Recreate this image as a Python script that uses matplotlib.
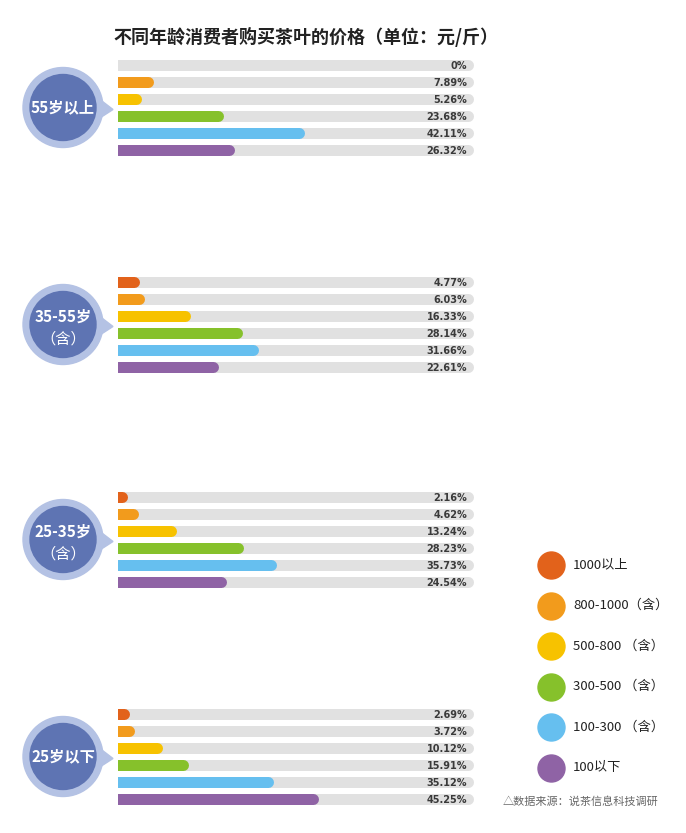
import matplotlib
matplotlib.use("Agg")
import matplotlib.pyplot as plt
from matplotlib.patches import Circle, Polygon

plt.rcParams['font.family'] = ['Noto Sans CJK SC', 'DejaVu Sans']

# ---------------- data ----------------
title = "不同年龄消费者购买茶叶的价格（单位：元/斤）"
groups = ["55岁以上", "35-55岁\n（含）", "25-35岁\n（含）", "25岁以下"]
categories = ["1000以上", "800-1000（含）", "500-800 （含）", "300-500 （含）", "100-300 （含）", "100以下"]
colors = ["#E2621B", "#F29B1C", "#F7C200", "#86C12B", "#66BFEF", "#8F63A5"]
age_55_plus = [0, 7.89, 5.26, 23.68, 42.11, 26.32]
age_35_55 = [4.77, 6.03, 16.33, 28.14, 31.66, 22.61]
age_25_35 = [2.16, 4.62, 13.24, 28.23, 35.73, 24.54]
age_under_25 = [2.69, 3.72, 10.12, 15.91, 35.12, 45.25]
series = [age_55_plus, age_35_55, age_25_35, age_under_25]
source = "△数据来源：说茶信息科技调研"

# ---------------- layout ----------------
W, H = 686, 833
fig = plt.figure(figsize=(W / 100, H / 100), dpi=100)
fig.patch.set_facecolor("white")

bg = fig.add_axes([0, 0, 1, 1])
bg.set_xlim(0, W)
bg.set_ylim(H, 0)
bg.axis("off")

fig.text(113 / W, 1 - 37 / H, title, fontsize=13, fontweight="bold",
         color="#222222", ha="left", va="center")

px_per_pct = 4.44
bar_px = 11
lw_pt = bar_px * 72 / 100
cap = (bar_px / 2) / px_per_pct
track_len = 80
first_rows = [65, 282, 497, 714]
row_gap = 17
x0 = 118
ax_w = 82 * px_per_pct

ring_c = "#B4C2E4"
core_c = "#5E74B3"

for g, (name, vals, top) in enumerate(zip(groups, series, first_rows)):
    ax_top = top - row_gap / 2
    ax_h = row_gap * 6
    ax = fig.add_axes([x0 / W, 1 - (ax_top + ax_h) / H, ax_w / W, ax_h / H])
    ax.set_xlim(0, 82)
    ax.set_ylim(5.5, -0.5)
    ax.axis("off")
    for i, v in enumerate(vals):
        ax.plot([0, track_len - cap], [i, i], color="#E1E1E1", lw=lw_pt,
                solid_capstyle="round", zorder=1)
        if v > 0:
            ax.plot([0, v - cap], [i, i], color=colors[i], lw=lw_pt,
                    solid_capstyle="round", zorder=2)
        lab = "0%" if v == 0 else f"{v:.2f}%"
        ax.text(78.6, i + 0.04, lab, ha="right", va="center", fontsize=7,
                fontweight="bold", color="#3a3a3a", family="DejaVu Sans", zorder=3)

    # speech-bubble circle
    cy = top + 2.5 * row_gap
    cx = 63
    bg.add_patch(Polygon([[96, cy - 11], [113, cy + 2], [96, cy + 13]],
                         closed=True, color=ring_c, zorder=1))
    bg.add_patch(Circle((cx, cy), 40, color=ring_c, zorder=2))
    bg.add_patch(Circle((cx, cy), 33, color=core_c, zorder=3))
    if "\n" in name:
        l1, l2 = name.split("\n")
        bg.text(cx, cy - 8, l1, ha="center", va="center", fontsize=11,
                fontweight="bold", color="white", zorder=4)
        bg.text(cx, cy + 15, l2, ha="center", va="center", fontsize=11,
                color="white", zorder=4)
    else:
        bg.text(cx, cy, name, ha="center", va="center", fontsize=11,
                fontweight="bold", color="white", zorder=4)

# legend
leg_y0 = 565
leg_gap = 40.5
for k, (cat, col) in enumerate(zip(categories, colors)):
    y = leg_y0 + k * leg_gap
    bg.scatter([551], [y], s=(13.5 * 72 / 100 * 2) ** 2, color=col, zorder=3)
    bg.text(573, y, cat, ha="left", va="center", fontsize=9.5, color="#222222")

bg.text(503, 801, source, ha="left", va="center", fontsize=8, color="#666666")

fig.savefig("out.png", dpi=100, facecolor="white")
